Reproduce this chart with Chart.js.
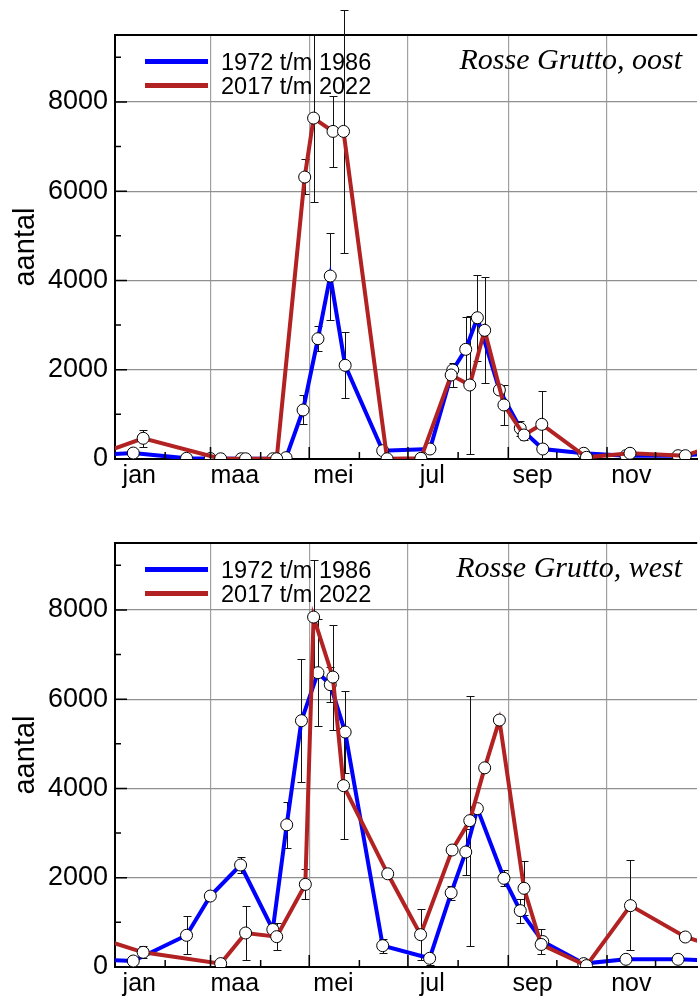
<!DOCTYPE html>
<html>
<head>
<meta charset="utf-8">
<script src="https://cdn.jsdelivr.net/npm/chart.js@4.4.0/dist/chart.umd.min.js"></script>
<style>
  body { margin: 0; background: #fff; width: 699px; height: 999px; position: relative; overflow: hidden; font-family: 'Liberation Sans', Arial, sans-serif; }
  canvas { position: absolute; left: 0; }
  .legline { position: absolute; left: 145px; width: 63px; height: 5px; }
  .legtext { position: absolute; left: 221px; font-size: 23.5px; line-height: 24px; color: #000; white-space: nowrap; }
  .title { position: absolute; right: 17px; font-family: 'Liberation Serif', 'Times New Roman', serif; font-style: italic; font-size: 30px; line-height: 30px; color: #000; white-space: nowrap; }
</style>
</head>
<body>
<!-- canvases are a bit wider than the window: the plot runs on past the right edge -->
<canvas id="oost" width="704" height="500" style="top:0"></canvas>
<canvas id="west" width="704" height="499" style="top:500px"></canvas>

<div class="legline" style="top:59px;background:#0000ff"></div>
<div class="legtext" style="top:50px">1972 t/m 1986</div>
<div class="legline" style="top:83px;background:#b22222"></div>
<div class="legtext" style="top:74px">2017 t/m 2022</div>
<div class="title" style="top:44px">Rosse Grutto, oost</div>

<div class="legline" style="top:567px;background:#0000ff"></div>
<div class="legtext" style="top:558px">1972 t/m 1986</div>
<div class="legline" style="top:591px;background:#b22222"></div>
<div class="legtext" style="top:582px">2017 t/m 2022</div>
<div class="title" style="top:552px">Rosse Grutto, west</div>

<script>
// x axis is day of year; the right edge of the plot is cut off by the picture
const xMax = 359.6;
const monthLabels = ['jan', 'maa', 'mei', 'jul', 'sep', 'nov'];
const monthLabelDays = [15, 74, 135, 196, 258, 319];
const gridDays = [59, 120, 181, 243, 304];
const minorDays = [31, 90, 151, 212, 273, 334];
const yTicks = [0, 2000, 4000, 6000, 8000];
const yMinor = [1000, 3000, 5000, 7000, 9000];

// Rosse Grutto, oost
const oostBlueDay = [11.3, 44.2, 58.9, 78, 97.5, 105.7, 116.2, 125.4, 133, 142.2, 165.4, 194.6, 208.7, 216.7, 223.9, 237.5, 250.4, 264.3, 289.6, 315.7, 347.9];
const oostBlueVal = [134, 15, 10, 5, 5, 30, 1098, 2695, 4099, 2099, 186, 224, 1994, 2457, 3165, 1546, 688, 224, 128, 74, 74];
const oostBlueLo  = [null, null, null, null, null, null, 777, 2419, 3114, 1373, null, null, 1620, 1730, 2200, null, 526, null, null, null, null];
const oostBlueHi  = [null, null, null, null, null, null, 1434, 2986, 5069, 2838, null, null, 2157, 3180, 4128, null, 851, null, null, null, null];

const oostRedDay = [17.4, 65.3, 80.7, 99.9, 117.2, 122.7, 134.7, 141.2, 168.1, 189, 207.7, 219.2, 228.4, 240.3, 252.7, 263.7, 291.3, 318.2, 352.4];
const oostRedVal = [464, 5, 5, 5, 6317, 7638, 7340, 7340, 5, 15, 1882, 1658, 2883, 1210, 538, 777, 38, 128, 74];
const oostRedLo  = [275, null, null, null, 5929, 5750, 6548, 4608, null, null, null, 108, 1696, 762, 426, 31, null, null, null];
const oostRedHi  = [650, null, null, null, 6713, 9527, 8131, 10058, null, null, null, 3208, 4070, 1658, 650, 1523, null, null, null];

// Rosse Grutto, west
const westBlueDay = [11.3, 44.2, 58.9, 77.6, 97.5, 106.1, 115.2, 125.4, 133, 142.2, 165.4, 194.4, 207.7, 216.7, 223.9, 240.3, 250.4, 264.3, 289.6, 315.7, 347.9];
const westBlueVal = [134, 710, 1590, 2285, 840, 3185, 5519, 6594, 6326, 5264, 478, 195, 1662, 2577, 3548, 1987, 1263, 570, 76, 172, 172];
const westBlueLo  = [null, 284, null, 2106, 700, 2666, 4137, 5398, 5936, 4354, 322, 38, 1510, 2061, null, 1808, 995, null, null, null, null];
const westBlueHi  = [null, 1142, null, 2464, 995, 3696, 6899, 7790, 6720, 6182, 636, 300, 1808, 3100, null, 2166, 1532, null, null, null, null];

const westRedDay = [17.4, 65.3, 80.7, 99.9, 117.6, 122.7, 134.6, 141.2, 168.5, 188.8, 208.3, 219.2, 228.4, 237.5, 252.7, 263.3, 291.3, 318.5, 352.4];
const westRedVal = [329, 76, 762, 680, 1852, 7840, 6496, 4063, 2088, 725, 2621, 3279, 4462, 5533, 1763, 505, 31, 1375, 672];
const westRedLo  = [195, null, 150, 374, 1517, 6554, 5302, 2860, null, 150, null, 479, null, null, 1155, 284, null, 374, null];
const westRedHi  = [464, null, 1375, 986, 2189, 9126, 7670, 5266, null, 1299, null, 6079, null, null, 2374, 860, null, 2390, null];

// the year wraps round: last point is repeated before january, first after december
function yearPoints(days, vals) {
  const n = days.length;
  const pts = days.map((d, i) => ({ x: d, y: vals[i] }));
  return [{ x: days[n - 1] - 365, y: vals[n - 1] }, ...pts, { x: days[0] + 365, y: vals[0] }];
}

function errorBars(sets) {
  return {
    id: 'errorBars',
    beforeDatasetsDraw(chart) {
      const { ctx, scales: { x, y } } = chart;
      ctx.save();
      ctx.strokeStyle = '#111';
      ctx.lineWidth = 1;
      sets.forEach(s => {
        s.day.forEach((d, i) => {
          if (s.lo[i] == null) return;
          const px = Math.round(x.getPixelForValue(d)) + 0.5;
          const y1 = Math.round(y.getPixelForValue(s.lo[i])) + 0.5;
          const y2 = Math.round(y.getPixelForValue(s.hi[i])) + 0.5;
          ctx.beginPath();
          ctx.moveTo(px, y1); ctx.lineTo(px, y2);
          ctx.moveTo(px - 4, y1); ctx.lineTo(px + 4, y1);
          ctx.moveTo(px - 4, y2); ctx.lineTo(px + 4, y2);
          ctx.stroke();
        });
      });
      ctx.restore();
    }
  };
}

// ticks pointing into the plot
const innerTicks = {
  id: 'innerTicks',
  afterDraw(chart) {
    const { ctx, chartArea: a, scales: { x, y } } = chart;
    ctx.save();
    ctx.strokeStyle = '#000';
    ctx.lineWidth = 1.5;
    ctx.beginPath();
    yTicks.forEach(v => { const p = y.getPixelForValue(v); ctx.moveTo(a.left, p); ctx.lineTo(a.left + 12, p); });
    yMinor.forEach(v => { const p = y.getPixelForValue(v); ctx.moveTo(a.left, p); ctx.lineTo(a.left + 6, p); });
    gridDays.forEach(d => { const p = x.getPixelForValue(d); ctx.moveTo(p, a.bottom); ctx.lineTo(p, a.bottom - 12); });
    minorDays.forEach(d => { const p = x.getPixelForValue(d); ctx.moveTo(p, a.bottom); ctx.lineTo(p, a.bottom - 7); });
    ctx.stroke();
    ctx.restore();
  }
};

function makeChart(id, blueDay, blueVal, redDay, redVal, errSets, padTop, xHeight) {
  const family = "'Liberation Sans', Arial, sans-serif";
  return new Chart(document.getElementById(id), {
    type: 'line',
    data: {
      datasets: [
        {
          label: '2017 t/m 2022',
          data: yearPoints(redDay, redVal),
          borderColor: '#b22222',
          borderWidth: 4,
          pointRadius: 6,
          pointBackgroundColor: '#fff',
          pointBorderColor: '#000',
          pointBorderWidth: 1,
          tension: 0,
          order: 0
        },
        {
          label: '1972 t/m 1986',
          data: yearPoints(blueDay, blueVal),
          borderColor: '#0000ff',
          borderWidth: 4,
          pointRadius: 6,
          pointBackgroundColor: '#fff',
          pointBorderColor: '#000',
          pointBorderWidth: 1,
          tension: 0,
          order: 1
        }
      ]
    },
    options: {
      responsive: false,
      animation: false,
      events: [],
      layout: { padding: { top: padTop, left: 0, right: 0, bottom: 0 } },
      plugins: { legend: { display: false }, tooltip: { enabled: false } },
      scales: {
        x: {
          type: 'linear',
          position: 'bottom',
          min: 0,
          max: xMax,
          afterBuildTicks: s => { s.ticks = monthLabelDays.map(v => ({ value: v })); },
          afterFit: s => { s.height = xHeight; },
          ticks: {
            autoSkip: false,
            maxRotation: 0,
            padding: 2,
            color: '#000',
            font: { family: family, size: 25 },
            callback: (v, i) => monthLabels[i]
          },
          grid: { drawOnChartArea: false, drawTicks: false },
          border: { display: true, color: '#000', width: 2 }
        },
        xg: {
          type: 'linear',
          position: 'top',
          min: 0,
          max: xMax,
          afterBuildTicks: s => { s.ticks = gridDays.map(v => ({ value: v })); },
          afterFit: s => { s.height = 0; },
          ticks: { display: false },
          grid: { color: '#a0a0a0', lineWidth: 1.2, drawTicks: false },
          border: { display: true, color: '#000', width: 2 }
        },
        y: {
          type: 'linear',
          min: 0,
          max: 9500,
          afterBuildTicks: s => { s.ticks = yTicks.map(v => ({ value: v })); },
          afterFit: s => { s.width = 115; },
          ticks: { padding: 7, color: '#000', font: { family: family, size: 27 }, callback: v => String(v) },
          grid: { color: '#909090', lineWidth: 1.2, drawTicks: false },
          border: { display: true, color: '#000', width: 2 },
          title: {
            display: true,
            text: 'aantal',
            color: '#000',
            font: { family: family, size: 29 },
            padding: { top: 9, bottom: 0 }
          }
        }
      }
    },
    plugins: [errorBars(errSets), innerTicks]
  });
}

makeChart('oost', oostBlueDay, oostBlueVal, oostRedDay, oostRedVal, [
  { day: oostBlueDay, lo: oostBlueLo, hi: oostBlueHi },
  { day: oostRedDay, lo: oostRedLo, hi: oostRedHi }
], 35, 41);

makeChart('west', westBlueDay, westBlueVal, westRedDay, westRedVal, [
  { day: westBlueDay, lo: westBlueLo, hi: westBlueHi },
  { day: westRedDay, lo: westRedLo, hi: westRedHi }
], 43, 32);
</script>
</body>
</html>
